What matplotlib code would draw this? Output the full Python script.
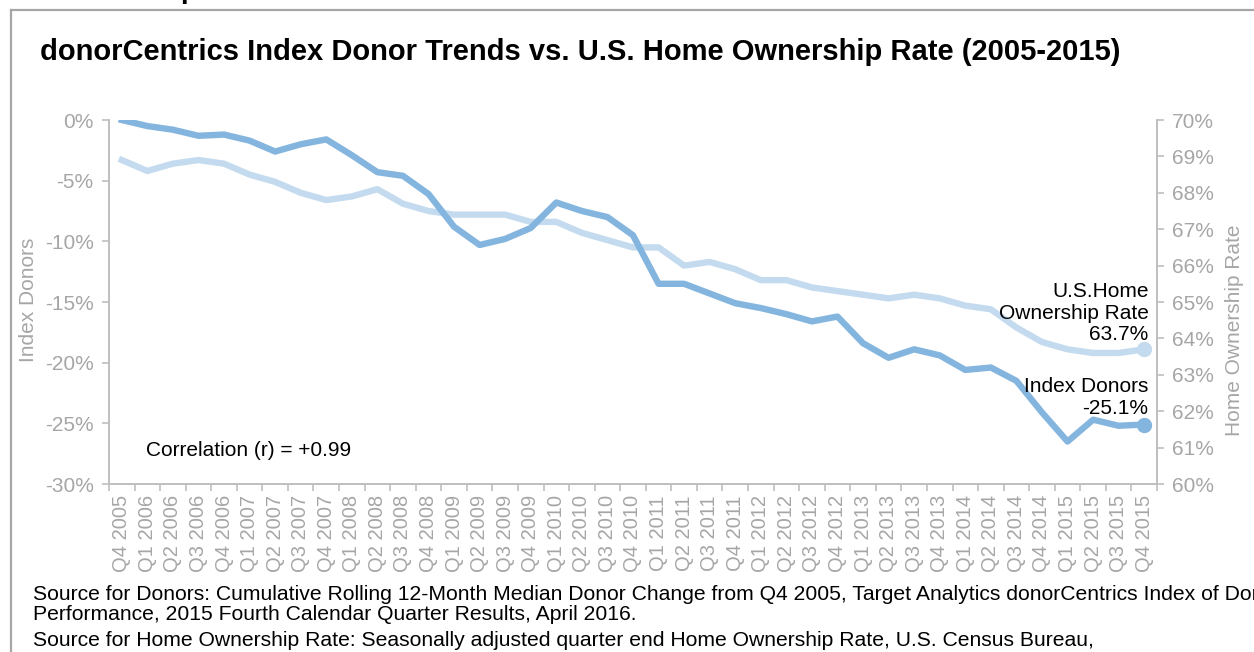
import matplotlib
matplotlib.use("Agg")
import matplotlib.pyplot as plt
from matplotlib.lines import Line2D
import numpy as np

plt.rcParams["font.family"] = ["Liberation Sans", "DejaVu Sans"]

QUARTERS = [
    "Q4 2005",
    "Q1 2006", "Q2 2006", "Q3 2006", "Q4 2006",
    "Q1 2007", "Q2 2007", "Q3 2007", "Q4 2007",
    "Q1 2008", "Q2 2008", "Q3 2008", "Q4 2008",
    "Q1 2009", "Q2 2009", "Q3 2009", "Q4 2009",
    "Q1 2010", "Q2 2010", "Q3 2010", "Q4 2010",
    "Q1 2011", "Q2 2011", "Q3 2011", "Q4 2011",
    "Q1 2012", "Q2 2012", "Q3 2012", "Q4 2012",
    "Q1 2013", "Q2 2013", "Q3 2013", "Q4 2013",
    "Q1 2014", "Q2 2014", "Q3 2014", "Q4 2014",
    "Q1 2015", "Q2 2015", "Q3 2015", "Q4 2015",
]

# cumulative change in index donors, percent
DONORS = [
    0.0,
    -0.5, -0.8, -1.3, -1.2,
    -1.7, -2.6, -2.0, -1.6,
    -2.9, -4.3, -4.6, -6.1,
    -8.8, -10.3, -9.8, -8.9,
    -6.8, -7.5, -8.0, -9.5,
    -13.5, -13.5, -14.3, -15.1,
    -15.5, -16.0, -16.6, -16.2,
    -18.4, -19.6, -18.9, -19.4,
    -20.6, -20.4, -21.5, -24.1,
    -26.5, -24.7, -25.2, -25.1,
]

# seasonally adjusted home ownership rate, percent
HOME_RATE = [
    68.9,
    68.6, 68.8, 68.9, 68.8,
    68.5, 68.3, 68.0, 67.8,
    67.9, 68.1, 67.7, 67.5,
    67.4, 67.4, 67.4, 67.2,
    67.2, 66.9, 66.7, 66.5,
    66.5, 66.0, 66.1, 65.9,
    65.6, 65.6, 65.4, 65.3,
    65.2, 65.1, 65.2, 65.1,
    64.9, 64.8, 64.3, 63.9,
    63.7, 63.6, 63.6, 63.7,
]

DONOR_TICKS = [0, -5, -10, -15, -20, -25, -30]
RATE_TICKS = [70, 69, 68, 67, 66, 65, 64, 63, 62, 61, 60]

DARK = "#84B5DE"
LIGHT = "#C4DBEF"
GRAY_TXT = "#A6A6A6"
GRAY_LINE = "#BFBFBF"

W, H = 1254, 652
fig = plt.figure(figsize=(W / 100, H / 100), dpi=100)
fig.patch.set_facecolor("white")

# slide frame (top and left edges visible)
fig.add_artist(Line2D([11 / W, 11 / W], [0, 1 - 10 / H], transform=fig.transFigure,
                      color="#A6A6A6", lw=1.6))
fig.add_artist(Line2D([11 / W, 1], [1 - 10 / H, 1 - 10 / H], transform=fig.transFigure,
                      color="#A6A6A6", lw=1.6))
# descender of the slide heading, cut off above the frame
fig.text(180 / W, 1 + 1.5 / H, "p", fontsize=20, fontweight="bold", ha="left", va="baseline")

ax = fig.add_axes([109 / W, 1 - 484 / H, 1048 / W, 364 / H])
ax2 = ax.twinx()

x = np.arange(len(QUARTERS))
ax2.plot(x, HOME_RATE, color=LIGHT, lw=4.6, solid_joinstyle="round", zorder=2)
ax2.plot(x[-1], HOME_RATE[-1], "o", color=LIGHT, ms=10, zorder=3)
ax.plot(x, DONORS, color=DARK, lw=4.6, solid_joinstyle="round", zorder=3)
ax.plot(x[-1], DONORS[-1], "o", color=DARK, ms=10, zorder=4)
ax.set_zorder(ax2.get_zorder() + 1)
ax.patch.set_visible(False)

ax.set_xlim(-0.5, len(QUARTERS) - 0.5)
ax.set_ylim(-30, 0)
ax2.set_ylim(60, 70)

ax.set_yticks(DONOR_TICKS)
ax.set_yticklabels([f"{v}%" for v in DONOR_TICKS])
ax2.set_yticks(RATE_TICKS)
ax2.set_yticklabels([f"{v}%" for v in RATE_TICKS])

ax.set_xticks(np.arange(-0.5, len(QUARTERS), 1.0))
ax.set_xticklabels([])
ax.set_xticks(x, minor=True)
ax.set_xticklabels(QUARTERS, minor=True, rotation=90, fontsize=14.5, color=GRAY_TXT)
ax.tick_params(axis="x", which="minor", length=0, pad=8)
ax.tick_params(axis="x", which="major", length=5, width=1.2, color=GRAY_LINE, direction="out")
ax.tick_params(axis="y", length=5, width=1.2, color=GRAY_LINE, labelcolor=GRAY_TXT,
               labelsize=15, pad=6)
ax2.tick_params(axis="y", length=5, width=1.2, color=GRAY_LINE, labelcolor=GRAY_TXT,
                labelsize=15, pad=6)

for a in (ax, ax2):
    for side in ("top", "right", "left", "bottom"):
        a.spines[side].set_visible(False)
ax.spines["left"].set_visible(True)
ax.spines["bottom"].set_visible(True)
ax2.spines["right"].set_visible(True)
for sp in (ax.spines["left"], ax.spines["bottom"], ax2.spines["right"]):
    sp.set_color(GRAY_LINE)
    sp.set_linewidth(1.4)

fig.text(29 / W, 1 - 300 / H, "Index Donors", rotation=90, fontsize=15, color=GRAY_TXT,
         ha="center", va="center")
fig.text(1235 / W, 1 - 330 / H, "Home Ownership Rate", rotation=90, fontsize=15, color=GRAY_TXT,
         ha="center", va="center")

ax2.annotate("U.S.Home\nOwnership Rate\n63.7%", xy=(x[-1], HOME_RATE[-1]), xytext=(3, 4),
             textcoords="offset points", ha="right", va="bottom", multialignment="right",
             fontsize=15, color="black", linespacing=1.15)
ax.annotate("Index Donors\n-25.1%", xy=(x[-1], DONORS[-1]), xytext=(3, 5),
            textcoords="offset points", ha="right", va="bottom", multialignment="right",
            fontsize=15, color="black", linespacing=1.2)

fig.text(146 / W, 1 - 450 / H, "Correlation (r) = +0.99", fontsize=15, ha="left", va="center")

fig.text(40 / W, 1 - 52 / H,
         "donorCentrics Index Donor Trends vs. U.S. Home Ownership Rate (2005-2015)",
         fontsize=21, fontweight="bold", ha="left", va="center")

fig.text(33 / W, 1 - 594 / H,
         "Source for Donors: Cumulative Rolling 12-Month Median Donor Change from Q4 2005, "
         "Target Analytics donorCentrics Index of Donor",
         fontsize=15.2, ha="left", va="center")
fig.text(33 / W, 1 - 615 / H,
         "Performance, 2015 Fourth Calendar Quarter Results, April 2016.",
         fontsize=15.2, ha="left", va="center")
fig.text(33 / W, 1 - 640 / H,
         "Source for Home Ownership Rate: Seasonally adjusted quarter end Home Ownership Rate, "
         "U.S. Census Bureau,",
         fontsize=15.2, ha="left", va="center")

fig.savefig("out.png", dpi=100)
